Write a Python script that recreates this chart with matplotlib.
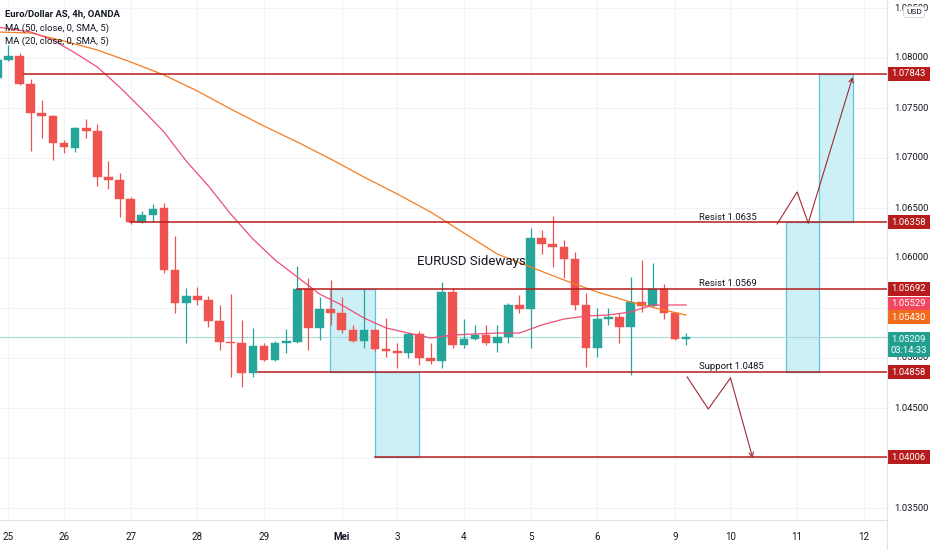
import matplotlib
matplotlib.use("Agg")
import matplotlib.pyplot as plt
from matplotlib.patches import Rectangle
from matplotlib import font_manager

# ---------------- data ----------------
bar_index = list(range(-1, 62))
opens = [1.0780, 1.0798, 1.0802, 1.0774, 1.0745, 1.0742, 1.0715, 1.0710, 1.0730, 1.0727,
         1.0681, 1.0678, 1.0659, 1.0636, 1.0643, 1.0650, 1.0588, 1.0555, 1.0562, 1.0558,
         1.0537, 1.0516, 1.0515, 1.0485, 1.0512, 1.0498, 1.0515, 1.0516, 1.0569, 1.0530,
         1.0549, 1.0545, 1.0528, 1.0517, 1.0528, 1.0509, 1.0507, 1.0505, 1.0524, 1.0500,
         1.0497, 1.0566, 1.0513, 1.0519, 1.0523, 1.0515, 1.0521, 1.0553, 1.0549, 1.0620,
         1.0614, 1.0611, 1.0599, 1.0553, 1.0510, 1.0539, 1.0541, 1.0531, 1.0556, 1.0552,
         1.0569, 1.0545, 1.0519]
highs = [1.0801, 1.0813, 1.0805, 1.0779, 1.0758, 1.0743, 1.0718, 1.0731, 1.0739, 1.0734,
         1.0697, 1.0685, 1.0661, 1.0647, 1.0654, 1.0655, 1.0622, 1.0570, 1.0571, 1.0562,
         1.0553, 1.0564, 1.0538, 1.0530, 1.0515, 1.0517, 1.0529, 1.0592, 1.0580, 1.0561,
         1.0578, 1.0561, 1.0533, 1.0569, 1.0529, 1.0540, 1.0515, 1.0525, 1.0527, 1.0515,
         1.0576, 1.0570, 1.0539, 1.0533, 1.0533, 1.0533, 1.0555, 1.0563, 1.0630, 1.0628,
         1.0642, 1.0618, 1.0606, 1.0565, 1.0550, 1.0550, 1.0545, 1.0581, 1.0598, 1.0595,
         1.0574, 1.0545, 1.0525]
lows = [1.0777, 1.0797, 1.0773, 1.0707, 1.0720, 1.0698, 1.0705, 1.0706, 1.0720, 1.0672,
        1.0669, 1.0641, 1.0634, 1.0635, 1.0636, 1.0585, 1.0545, 1.0515, 1.0553, 1.0531,
        1.0508, 1.0481, 1.0471, 1.0481, 1.0497, 1.0497, 1.0505, 1.0515, 1.0508, 1.0518,
        1.0533, 1.0525, 1.0516, 1.0510, 1.0507, 1.0501, 1.0490, 1.0500, 1.0493, 1.0494,
        1.0490, 1.0510, 1.0510, 1.0518, 1.0513, 1.0506, 1.0515, 1.0545, 1.0510, 1.0604,
        1.0591, 1.0580, 1.0548, 1.0491, 1.0501, 1.0533, 1.0515, 1.0483, 1.0546, 1.0551,
        1.0539, 1.0518, 1.0513]
closes = [1.0798, 1.0802, 1.0774, 1.0745, 1.0742, 1.0715, 1.0711, 1.0730, 1.0727, 1.0681,
          1.0678, 1.0659, 1.0636, 1.0643, 1.0649, 1.0588, 1.0555, 1.0562, 1.0558, 1.0537,
          1.0516, 1.0515, 1.0485, 1.0512, 1.0498, 1.0515, 1.0517, 1.0569, 1.0530, 1.0549,
          1.0545, 1.0528, 1.0517, 1.0528, 1.0509, 1.0507, 1.0505, 1.0524, 1.0500, 1.0497,
          1.0566, 1.0513, 1.0519, 1.0523, 1.0515, 1.0521, 1.0553, 1.0549, 1.0620, 1.0614,
          1.0611, 1.0599, 1.0553, 1.0510, 1.0539, 1.0541, 1.0531, 1.0556, 1.0552, 1.0569,
          1.0545, 1.0519, 1.05209]

ma50_idx = [-1, 2, 5, 8, 11, 14, 17, 20, 23, 26, 29, 32, 35, 38, 41, 44, 47, 50, 53, 56, 59, 61]
ma50_val = [1.0826, 1.0825, 1.0817, 1.0808, 1.0796, 1.0783, 1.0767, 1.0749, 1.0732, 1.0716,
            1.0699, 1.0681, 1.0664, 1.0646, 1.0625, 1.0604, 1.0591, 1.0578, 1.0566, 1.0556,
            1.0548, 1.0543]
ma20_idx = [-1, 2, 4, 6, 8, 10, 12, 14, 16, 18, 20, 22, 24, 26, 28, 30, 32, 34, 36, 38,
            40, 42, 44, 46, 48, 50, 52, 54, 56, 58, 61]
ma20_val = [1.0831, 1.0826, 1.0818, 1.0805, 1.0791, 1.0771, 1.0749, 1.0726, 1.0697, 1.0672,
            1.0644, 1.0619, 1.0598, 1.0581, 1.0564, 1.0553, 1.0540, 1.0530, 1.0525, 1.0520,
            1.0523, 1.0524, 1.0525, 1.0525, 1.0533, 1.0539, 1.0542, 1.0543, 1.0546, 1.0553,
            1.0553]

day_ticks = [0, 5, 11, 17, 23, 30, 35, 41, 47, 53, 60, 65, 71, 77]
day_labels = ["25", "26", "27", "28", "29", "Mei", "3", "4", "5", "6", "9", "10", "11", "12"]

price_ticks = [1.035, 1.040, 1.045, 1.050, 1.055, 1.060, 1.065, 1.070, 1.075, 1.080, 1.085]
price_tick_labels = ["1.03500", "", "1.04500", "1.05000", "", "1.06000", "1.06500",
                     "1.07000", "1.07500", "1.08000", "1.08500"]

levels = [1.07843, 1.06358, 1.05692, 1.04858, 1.04006]
level_start = [1.4, 10.9, 26.0, 22.5, 33.0]
level_labels = ["1.07843", "1.06358", "1.05692", "1.04858", "1.04006"]

zones = [  # (x0, x1, y0, y1)
    (28.9, 33.0, 1.04858, 1.05692),
    (33.0, 37.0, 1.04006, 1.04858),
    (70.0, 73.0, 1.04858, 1.06358),
    (73.0, 76.0, 1.06358, 1.07843),
]
up_path_x = [69.2, 71.0, 72.0, 76.0]
up_path_y = [1.0634, 1.0666, 1.0635, 1.0781]
down_path_x = [61.1, 63.0, 65.0, 67.0]
down_path_y = [1.0481, 1.0449, 1.0480, 1.0400]

notes = [("Resist 1.0635", 62.2, 1.06365), ("Resist 1.0569", 62.2, 1.05700),
         ("Support 1.0485", 62.2, 1.04866)]
headline = ("EURUSD Sideways", 41.7, 1.0596)

last_price = 1.05209
ma20_last = 1.05529
ma50_last = 1.05430
countdown = "03:14:33"

# ---------------- style ----------------
names = {f.name for f in font_manager.fontManager.ttflist}
FONT = "Roboto" if "Roboto" in names else "DejaVu Sans"
plt.rcParams["font.family"] = [FONT, "DejaVu Sans"]

GREEN = "#26A69A"
RED = "#EF5350"
LEVEL = "#B71C1C"
TXT = "#131722"
GRID = "#F0F3FA"

fig = plt.figure(figsize=(9.32, 5.5), dpi=100)
ax = fig.add_axes([0, 30 / 550, 887 / 932, 520 / 550])
ax.set_xlim(-0.765, 79.09)
ax.set_ylim(1.0338, 1.0858)
for s in ["top", "left", "right"]:
    ax.spines[s].set_visible(False)
ax.spines["bottom"].set_color("#E0E3EB")
ax.set_yticks([])

# grid
for p in price_ticks:
    ax.axhline(p, color=GRID, lw=0.8, zorder=0)
for t in day_ticks:
    ax.axvline(t, color=GRID, lw=0.8, zorder=0)

ax.set_xticks(day_ticks)
ax.set_xticklabels(day_labels, fontsize=7, color=TXT)
for lab in ax.get_xticklabels():
    if lab.get_text() == "Mei":
        lab.set_fontweight("bold")
ax.tick_params(axis="x", length=0, pad=9)

# zones
for (x0, x1, y0, y1) in zones:
    ax.add_patch(Rectangle((x0, y0), x1 - x0, y1 - y0, facecolor="#CDEFF6",
                           edgecolor="#5BC7D8", lw=0.9, zorder=1))

# current price line
ax.axhline(last_price, color="#A6DCD5", lw=0.8, zorder=1)

# candles
BW = 0.78
for i, o, h, l, c in zip(bar_index, opens, highs, lows, closes):
    col = GREEN if c >= o else RED
    ax.vlines(i, l, h, color=col, lw=0.9, zorder=3)
    lo, hi = min(o, c), max(o, c)
    ax.add_patch(Rectangle((i - BW / 2, lo), BW, max(hi - lo, 0.00012),
                           facecolor=col, edgecolor=col, lw=0.3, zorder=4))

# moving averages
ax.plot(ma50_idx, ma50_val, color="#F57C20", lw=0.9, zorder=5)
ax.plot(ma20_idx, ma20_val, color="#EE4F74", lw=0.9, zorder=5)

# levels
for lv, st in zip(levels, level_start):
    ax.plot([st, 80], [lv, lv], color=LEVEL, lw=1.1, zorder=6, clip_on=True)

# zigzag arrows
ARC = "#9E2A36"
ax.plot(up_path_x[:-1], up_path_y[:-1], color=ARC, lw=0.8, zorder=6)
ax.annotate("", xy=(up_path_x[-1], up_path_y[-1]), xytext=(up_path_x[-2], up_path_y[-2]),
            arrowprops=dict(arrowstyle="->", color=ARC, lw=0.8, shrinkA=0, shrinkB=0,
                            mutation_scale=8), zorder=6)
ax.plot(down_path_x[:-1], down_path_y[:-1], color=ARC, lw=0.8, zorder=6)
ax.annotate("", xy=(down_path_x[-1], down_path_y[-1]), xytext=(down_path_x[-2], down_path_y[-2]),
            arrowprops=dict(arrowstyle="->", color=ARC, lw=0.8, shrinkA=0, shrinkB=0,
                            mutation_scale=8), zorder=6)

# notes
for txt, x, y in notes:
    ax.text(x, y, txt, fontsize=6.8, color=TXT, ha="left", va="bottom", zorder=7)
ax.text(headline[1], headline[2], headline[0], fontsize=9.5, color=TXT, ha="center",
        va="center", zorder=7)

# legend / title texts
fig.text(5 / 932, 1 - 14 / 550, "Euro/Dollar AS, 4h, OANDA", fontsize=6.8, color=TXT,
         fontweight="bold", va="center", ha="left")
fig.text(5 / 932, 1 - 28 / 550, "MA (50, close, 0, SMA, 5)", fontsize=6.8, color=TXT,
         va="center", ha="left")
fig.text(5 / 932, 1 - 41 / 550, "MA (20, close, 0, SMA, 5)", fontsize=6.8, color=TXT,
         va="center", ha="left")

# price scale
ytr = ax.get_yaxis_transform()
LX = 911 / 887
for p, lab in zip(price_ticks, price_tick_labels):
    if lab:
        ax.text(LX, p, lab, transform=ytr, fontsize=6.8, color=TXT, ha="center",
                va="center", clip_on=False, zorder=2)

BOXW = 43 / 887


def price_box(y, text, color, h=0.0014, zorder=10):
    ax.add_patch(Rectangle((1.0, y - h / 2), BOXW, h, transform=ytr, facecolor=color,
                           edgecolor="none", clip_on=False, zorder=zorder))
    ax.text(1.0 + BOXW / 2, y, text, transform=ytr, fontsize=6.8, color="white",
            ha="center", va="center", clip_on=False, zorder=zorder + 1)


for lv, lab in zip(levels, level_labels):
    price_box(lv, lab, "#B71C1C")
price_box(ma20_last + 0.0002, f"{ma20_last:.5f}", "#F2455E", h=0.0013, zorder=12)
price_box(ma50_last - 0.0002, f"{ma50_last:.5f}", "#F26A1B", h=0.0013, zorder=11)
# last price box (two lines)
ax.add_patch(Rectangle((1.0, last_price - 0.0020), BOXW, 0.0025, transform=ytr,
                       facecolor="#22A08F", edgecolor="none", clip_on=False, zorder=13))
ax.text(1.0 + BOXW / 2, last_price - 0.0002, f"{last_price:.5f}", transform=ytr,
        fontsize=6.8, color="white", ha="center", va="center", clip_on=False, zorder=14)
ax.text(1.0 + BOXW / 2, last_price - 0.0013, countdown, transform=ytr,
        fontsize=6.8, color="white", ha="center", va="center", clip_on=False, zorder=14)

# USD tag
fig.text(914 / 932, 1 - 12 / 550, "USD", fontsize=6, color=TXT, ha="center", va="center",
         bbox=dict(boxstyle="round,pad=0.3", facecolor="white", edgecolor="#D1D4DC", lw=0.6),
         zorder=20)

# price axis separator
fig.add_artist(plt.Line2D([887 / 932, 887 / 932], [0, 1], color="#E0E3EB", lw=0.8))

fig.savefig("out.png", dpi=100, facecolor="white")
